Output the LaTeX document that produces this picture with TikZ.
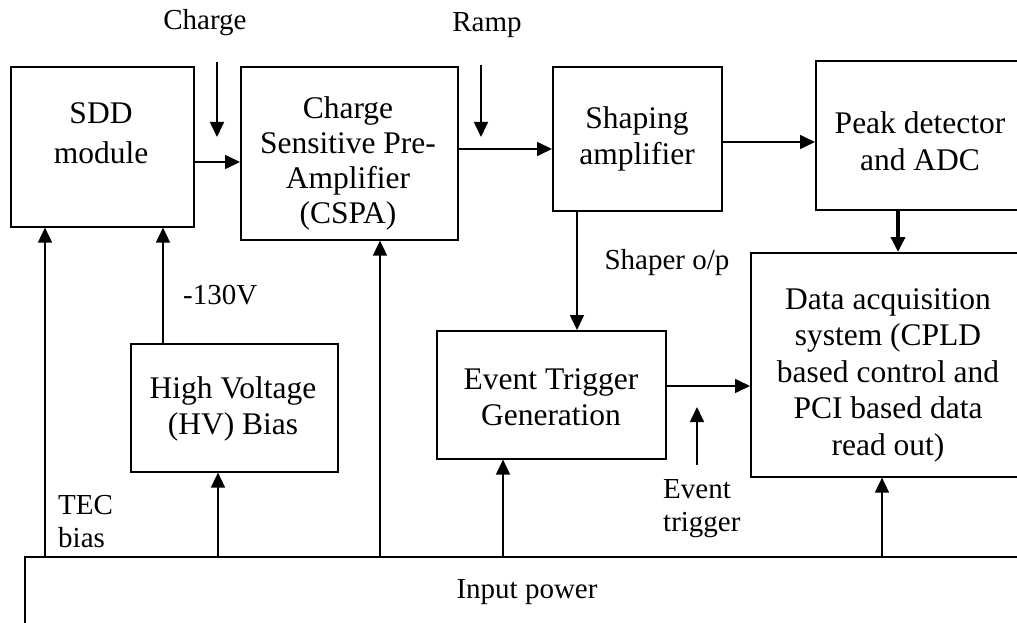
\documentclass[tikz,border=0pt]{standalone}
\usepackage{fontspec}
\setmainfont{Liberation Serif}
\usetikzlibrary{arrows.meta}
\begin{document}
\begin{tikzpicture}[x=1pt,y=-1pt,
  blk/.style={draw, line width=1.6pt, anchor=north west, inner sep=0pt},
  arr/.style={line width=1.6pt, -{Triangle[length=15pt,width=14pt]}},
  big/.style={font=\fontsize{31.5}{36.5}\selectfont, align=center, inner sep=0pt},
  lbl/.style={font=\fontsize{29}{33}\selectfont, inner sep=0pt}]
\clip (0,0) rectangle (1017,623);
\fill[white] (0,0) rectangle (1017,623);
% boxes
\node[blk, minimum width=183pt, minimum height=160pt] (sdd) at (10,66) {};
\node[blk, minimum width=217pt, minimum height=173pt] (cspa) at (240,66) {};
\node[blk, minimum width=169pt, minimum height=144pt] (shp) at (552,66) {};
\node[blk, minimum width=300pt, minimum height=149pt] (pk) at (815,60) {};
\node[blk, minimum width=300pt, minimum height=224pt] (daq) at (750,252) {};
\node[blk, minimum width=229pt, minimum height=128pt] (etg) at (436,330) {};
\node[blk, minimum width=207pt, minimum height=128pt] (hv) at (130,343) {};
\node[blk, minimum width=1100pt, minimum height=200pt] (inp) at (24,556) {};
% box texts
\node[big] (sddt) at (101,133) {SDD\\[4pt]module};
\node[big, font=\fontsize{31.5}{35}\selectfont] (cspat) at (348,163) {Charge\\Sensitive Pre-\\Amplifier\\(CSPA)};
\node[big] (shpt) at (637,139) {Shaping\\amplifier};
\node[big] (pkt) at (920,141) {Peak detector\\and ADC};
\node[big] (daqt) at (888,375) {Data acquisition\\system (CPLD\\based control and\\PCI based data\\read out)};
\node[big] (etgt) at (551,397) {Event Trigger\\Generation};
\node[big] (hvt) at (233,409) {High Voltage\\(HV) Bias};
% labels
\node[lbl] (inpt) at (527,592) {Input power};
\node[lbl] (chg) at (205,23) {Charge};
\node[lbl] (rmp) at (487,25) {Ramp};
\node[lbl, anchor=west] (hvl) at (183,295) {-130V};
\node[lbl, anchor=west, align=left] (tec) at (58,522) {TEC\\bias};
\node[lbl] (shl) at (667,263) {Shaper o/p};
\node[lbl, anchor=west, align=left] (evl) at (663,509) {Event\\trigger};
% free arrows
\coordinate (c1) at (217,62); \coordinate (c2) at (217,137);
\draw[arr] (c1) -- (c2);
\coordinate (r1) at (481,65); \coordinate (r2) at (481,137);
\draw[arr] (r1) -- (r2);
\coordinate (e1) at (697,465); \coordinate (e2) at (697,407);
\draw[arr] (e1) -- (e2);
% signal path
\draw[arr] (sdd.east |- 0,162) -- (cspa.west |- 0,162);
\draw[arr] (cspa.east |- 0,149) -- (shp.west |- 0,149);
\draw[arr] (shp.east |- 0,142) -- (pk.west |- 0,142);
\draw[arr, line width=3.5pt] (pk.south -| 898,0) -- (daq.north -| 898,0);
\draw[arr] (shp.south -| 577,0) -- (etg.north -| 577,0);
\draw[arr] (etg.east |- 0,386) -- (daq.west |- 0,386);
% power
\draw[arr] (inp.north -| 45,0) -- (sdd.south -| 45,0);
\draw[arr] (hv.north -| 163,0) -- (sdd.south -| 163,0);
\draw[arr] (inp.north -| 218,0) -- (hv.south -| 218,0);
\draw[arr] (inp.north -| 380,0) -- (cspa.south -| 380,0);
\draw[arr] (inp.north -| 503,0) -- (etg.south -| 503,0);
\draw[arr] (inp.north -| 882,0) -- (daq.south -| 882,0);
\end{tikzpicture}
\end{document}
